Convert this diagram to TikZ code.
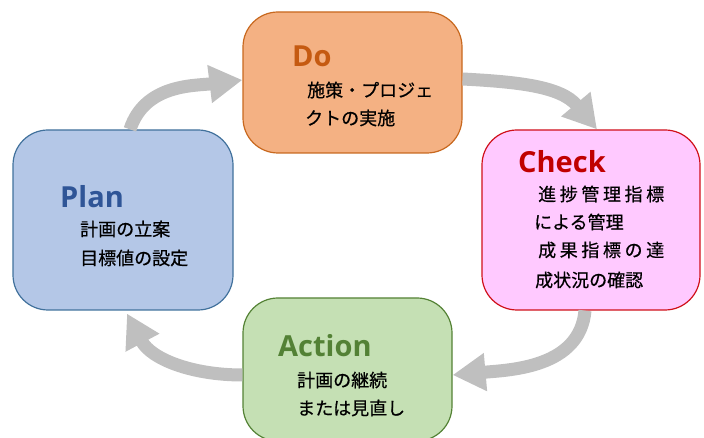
\documentclass[tikz,border=0pt]{standalone}
\usepackage{fontspec}
\usetikzlibrary{arrows.meta}

\newfontfamily\jpfont{Noto Sans CJK JP}[FakeBold=0.6]
\newfontfamily\titlefont{Open Sans}

\definecolor{dofill}{HTML}{F4B183}
\definecolor{doline}{HTML}{C8681E}
\definecolor{dotitle}{HTML}{C55A11}
\definecolor{checkfill}{HTML}{FFC9FF}
\definecolor{checkline}{HTML}{D0101A}
\definecolor{checktitle}{HTML}{C00000}
\definecolor{planfill}{HTML}{B4C7E7}
\definecolor{planline}{HTML}{41719C}
\definecolor{plantitle}{HTML}{2F5597}
\definecolor{actionfill}{HTML}{C5E0B4}
\definecolor{actionline}{HTML}{548235}
\definecolor{actiontitle}{HTML}{538135}
\definecolor{arrowgray}{HTML}{BFBFBF}

\tikzset{
  pdcabox/.style={draw, line width=1.2pt, rounded corners=35pt, inner sep=0pt},
  pdcatitle/.style={anchor=west, inner sep=0pt, font=\titlefont\bfseries\fontsize{29}{34}\selectfont},
  pdcatext/.style={anchor=west, inner sep=0pt, font=\jpfont\fontsize{18}{22}\selectfont},
  spaced/.style={font=\jpfont\fontsize{18}{22}\selectfont\addfontfeature{LetterSpace=20}},
  cyclearrow/.style={draw=arrowgray, line width=13pt, -{Triangle[width=36pt,length=33pt]}}
}

\begin{document}
\begin{tikzpicture}[x=1pt, y=1pt]
	\useasboundingbox (0,0) rectangle (704,438);

	% Boksene
	\node[pdcabox, fill=dofill, draw=doline, minimum width=219pt, minimum height=141pt] (do) at (352.5,355.5) {};
	\node[pdcabox, fill=checkfill, draw=checkline, minimum width=218pt, minimum height=180pt] (check) at (591,218) {};
	\node[pdcabox, fill=planfill, draw=planline, minimum width=220pt, minimum height=180pt] (plan) at (123,218) {};
	\node[pdcabox, fill=actionfill, draw=actionline, minimum width=209pt, minimum height=143pt] (action) at (347.5,68.5) {};

	% Do
	\node[pdcatitle, text=dotitle] (do-title) at (292,382) {Do};
	\node[pdcatext] (do-l1) at (307,348) {施策・プロジェ};
	\node[pdcatext] (do-l2) at (305,320) {クトの実施};

	% Check
	\node[pdcatitle, text=checktitle] (check-title) at (518,276) {Check};
	\node[pdcatext, spaced] (check-l1) at (538,244) {進捗管理指標};
	\node[pdcatext] (check-l2) at (534,216) {による管理};
	\node[pdcatext, spaced] (check-l3) at (538,188) {成果指標の達};
	\node[pdcatext] (check-l4) at (535,158) {成状況の確認};

	% Plan
	\node[pdcatitle, text=plantitle] (plan-title) at (60,241) {Plan};
	\node[pdcatext] (plan-l1) at (80,209) {計画の立案};
	\node[pdcatext] (plan-l2) at (80,180) {目標値の設定};

	% Action
	\node[pdcatitle, text=actiontitle] (action-title) at (278,92) {Action};
	\node[pdcatext] (action-l1) at (297,58) {計画の継続};
	\node[pdcatext] (action-l2) at (297,30) {または見直し};

	% Piler rundt syklusen
	\draw[cyclearrow] ([xshift=7pt]plan.north) to[out=72, in=187] ([yshift=2.5pt]do.west);
	\draw[cyclearrow] ([yshift=3.5pt]do.east) to[out=-3, in=130] ([xshift=6pt]check.north);
	\draw[cyclearrow] ([xshift=-6pt]check.south) to[out=-95, in=5] ([yshift=-5.5pt]action.east);
	\draw[cyclearrow] ([yshift=-5.5pt]action.west) to[out=180, in=-62] ([shift={(4pt,-3pt)}]plan.south);
\end{tikzpicture}
\end{document}
